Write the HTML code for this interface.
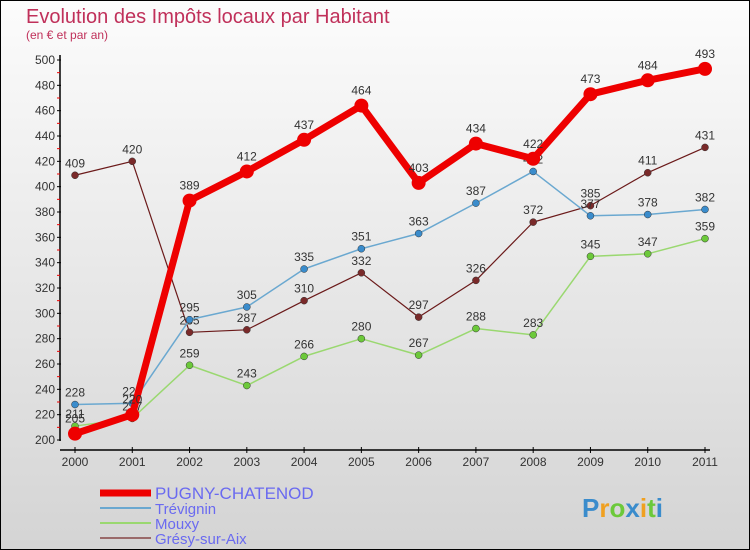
<!DOCTYPE html>
<html><head><meta charset="utf-8"><style>
body{margin:0;width:750px;height:550px;overflow:hidden;font-family:"Liberation Sans",sans-serif}
#c{position:absolute;left:0;top:0;width:748px;height:548px;border:1px solid #000;background:linear-gradient(#fcfcfc,#d4d4d4)}
</style></head><body>
<div id="c">
<svg id="s" width="750" height="550" style="position:absolute;left:-1px;top:-1px">
<text x="26" y="23" font-size="20" fill="#c0305a">Evolution des Impôts locaux par Habitant</text>
<text x="26" y="39" font-size="12" fill="#c0305a">(en € et par an)</text>
</svg></div>
<script>
const years=["2000","2001","2002","2003","2004","2005","2006","2007","2008","2009","2010","2011"];
const pugny=[205,220,389,412,437,464,403,434,422,473,484,493];
const trevignin=[228,229,295,305,335,351,363,387,412,377,378,382];
const mouxy=[211,217,259,243,266,280,267,288,283,345,347,359];
const gresy=[409,420,285,287,310,332,297,326,372,385,411,431];
const yTicks=[200,220,240,260,280,300,320,340,360,380,400,420,440,460,480,500];
const names=["PUGNY-CHATENOD","Trévignin","Mouxy","Grésy-sur-Aix"];
const s=document.getElementById('s');const NS="http://www.w3.org/2000/svg";
function X(i){return 75+i*(630/11);}
function Y(v){return 440-(v-200)*380/300;}
function el(t,a,p){const e=document.createElementNS(NS,t);for(const k in a)e.setAttribute(k,a[k]);(p||s).appendChild(e);return e;}
let ax=el('line',{x1:60,y1:55,x2:60,y2:441,stroke:'#000','stroke-width':1.5});

let bx=el('line',{x1:60,y1:450,x2:710,y2:450,stroke:'#000','stroke-width':1.5});

yTicks.forEach((v,i)=>{el('line',{x1:57,y1:Y(v),x2:61,y2:Y(v),stroke:'#000'});
 if(i<yTicks.length-1)el('line',{x1:57,y1:Y(v+10),x2:60,y2:Y(v+10),stroke:'#e00'});
 const t=el('text',{x:55,y:Y(v)+4,'font-size':12,fill:'#333','text-anchor':'end'});t.textContent=v;
 });
years.forEach((y,i)=>{el('line',{x1:X(i),y1:447,x2:X(i),y2:453,stroke:'#000'});
 const t=el('text',{x:X(i),y:466,'font-size':12,fill:'#333','text-anchor':'middle'});t.textContent=y;
 });
const series=[[gresy,'#6b1a1a','#7a2a2a',1.2,3.5,'gresy'],[mouxy,'#9ad870','#6cc93a',1.5,3.5,'mouxy'],[trevignin,'#6aa8d0','#3a8ccc',1.5,3.5,'trevignin'],[pugny,'#ee0000','#ee0000',7,7,'pugny']];
series.forEach(([d,lc,pc,w,r,n])=>{
 const g=el('g',{});
 el('polyline',{points:d.map((v,i)=>X(i)+','+Y(v)).join(' '),fill:'none',stroke:lc,'stroke-width':w,'stroke-linejoin':'round'},g);
 d.forEach((v,i)=>{const c=el('circle',{cx:X(i),cy:Y(v),r:r,fill:pc,stroke:r>4?'none':'#333','stroke-width':0.5},g);
  
  const t=el('text',{x:X(i),y:Y(v)-(r>4?11:8),'font-size':12,fill:'#333','text-anchor':'middle'},g);t.textContent=v;
  });
});
const lc=[['#ee0000',7],['#6aa8d0',2],['#9ad870',2],['#9a6a6a',2]];
names.forEach((n,i)=>{const y=493+i*15;
 const g=el('g',{});
 el('line',{x1:100,y1:y,x2:151,y2:y,stroke:lc[i][0],'stroke-width':lc[i][1]},g);
 const t=el('text',{x:155,y:y+6,'font-size':i==0?17:15,fill:'#6a6af0'},g);t.textContent=n;});
const p=el('text',{x:582,y:517,'font-size':26,'font-weight':'bold'});

[['P','#3a8ccc'],['r','#f0a020'],['o','#6cc93a'],['x','#3a8ccc'],['i','#f0a020'],['t','#6cc93a'],['i','#3a8ccc']].forEach(([ch,c])=>{el('tspan',{fill:c},p).textContent=ch;});
</script>
</body></html>
